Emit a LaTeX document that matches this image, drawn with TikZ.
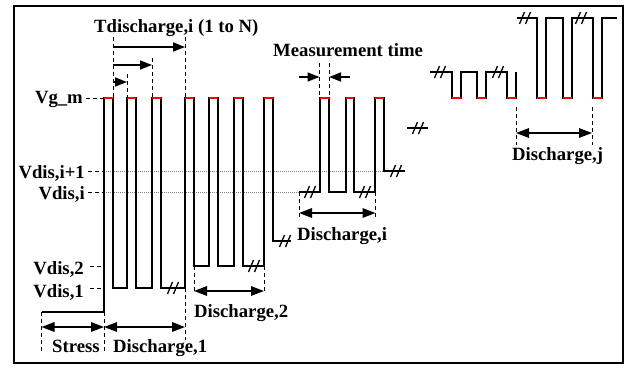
\documentclass[tikz,border=0pt]{standalone}
\usepackage{fontspec}
\setmainfont{Liberation Serif}
\usetikzlibrary{arrows.meta}
\begin{document}
\begin{tikzpicture}[x=1pt,y=-1pt,
  wave/.style={line width=1.6pt},
  hot/.style={red, line width=2pt},
  ext/.style={line width=0.9pt, dash pattern=on 4pt off 3pt},
  lvl/.style={gray, line width=0.9pt, dash pattern=on 1pt off 1pt},
  dimarrow/.style={line width=1.5pt, {Triangle[length=13pt,width=9.5pt]}-{Triangle[length=13pt,width=9.5pt]}},
  onearrow/.style={line width=1.5pt, -{Triangle[length=12pt,width=9pt]}},
  lbl/.style={font=\fontsize{18.7}{20}\selectfont\bfseries, inner sep=0pt},
  brk/.pic={\draw[line width=1.3pt] (-5.5,6) -- (-0.5,-6) (0.5,6) -- (5.5,-6);}
]
\useasboundingbox (0,0) rectangle (632,367);
\draw[line width=2pt] (13.5,5.5) rectangle (623,362.5);

% level markers
\draw[lvl] (104,171) -- (392,171);
\draw[lvl] (104,192) -- (300,192);
\draw[ext] (86,98) -- (104,98);
\draw[ext] (88,171) -- (104,171);
\draw[ext] (88,192) -- (104,192);
\draw[ext] (90,266) -- (104,266);
\draw[ext] (90,288) -- (104,288);

% waveform: stress, discharge 1 and 2
\draw[wave] (41.5,312) -- (104,312) -- (104,98) -- (113,98) -- (113,288) -- (127,288) -- (127,98) -- (136,98) -- (136,288) -- (152,288) -- (152,98) -- (161,98) -- (161,288) -- (185,288) -- (185,98) -- (194,98) -- (194,266) -- (209,266) -- (209,98) -- (218,98) -- (218,266) -- (234,266) -- (234,98) -- (243,98) -- (243,266) -- (264,266) -- (264,98) -- (273,98) -- (273,241) -- (291,241);
\pic at (173,288) {brk};
\pic at (254,266) {brk};
\pic at (285,241) {brk};
\foreach \a/\b in {104/113,127/136,152/161,185/194,209/218,234/243,264/273}
  \draw[hot] (\a,98) -- (\b,98);

% waveform: discharge i
\draw[wave] (299,192) -- (320,192) -- (320,98) -- (329,98) -- (329,192) -- (346,192) -- (346,98) -- (354,98) -- (354,192) -- (375,192) -- (375,98) -- (384,98) -- (384,171) -- (405,171);
\pic at (310,192) {brk};
\pic at (365,192) {brk};
\pic at (396,171) {brk};
\foreach \a/\b in {320/329,346/354,375/384}
  \draw[hot] (\a,98) -- (\b,98);

% standalone break
\draw[wave] (407,128) -- (428,128);
\pic at (418,128) {brk};

% right groups
\draw[wave] (430,72) -- (452,72) -- (452,98) -- (461,98) -- (461,72) -- (477,72) -- (477,98) -- (486,98) -- (486,72) -- (507,72) -- (507,98) -- (516,98) -- (516,72);
\pic at (440,72) {brk};
\pic at (498,72) {brk};
\draw[wave] (517,18) -- (537,18) -- (537,98) -- (546,98) -- (546,18) -- (563,18) -- (563,98) -- (572,98) -- (572,18) -- (593,18) -- (593,98) -- (602,98) -- (602,18) -- (617,18);
\pic at (525,18) {brk};
\pic at (581,18) {brk};
\foreach \a/\b in {452/461,477/486,507/516,537/546,563/572,593/602}
  \draw[hot] (\a,98) -- (\b,98);

% Tdischarge
\draw[ext] (113,37) -- (113,98);
\draw[ext] (127,74) -- (127,98);
\draw[ext] (152,58) -- (152,98);
\draw[ext] (185,37) -- (185,98);
\draw[onearrow] (113,82) -- (127,82);
\draw[onearrow] (113,65) -- (152,65);
\draw[onearrow] (113,47) -- (185,47);

% measurement time
\draw[ext] (319.5,63) -- (319.5,98);
\draw[ext] (329,63) -- (329,98);
\draw[onearrow] (299,77) -- (319.5,77);
\draw[onearrow] (350,77) -- (329,77);

% discharge i
\draw[ext] (299,192) -- (299,217);
\draw[ext] (375.5,192) -- (375.5,217);
\draw[dimarrow] (299,213) -- (375.5,213);

% discharge j
\draw[ext] (516,107) -- (516,145);
\draw[ext] (592,107) -- (592,145);
\draw[dimarrow] (516,133) -- (592,133);

% discharge 2
\draw[ext] (194,266) -- (194,293);
\draw[ext] (264,266) -- (264,293);
\draw[dimarrow] (194,291) -- (264,291);

% stress, discharge 1
\draw[ext] (41.5,312) -- (41.5,353);
\draw[ext] (104,312) -- (104,353);
\draw[ext] (185,288) -- (185,340);
\draw[dimarrow] (41.5,327) -- (104,327);
\draw[dimarrow] (104,327) -- (185,327);

% labels
\node[lbl, anchor=base east] (vgm) at (83,103) {Vg\_m};
\node[lbl, anchor=base east] (vi1) at (85,178) {Vdis,i+1};
\node[lbl, anchor=base east] (vi) at (85,199) {Vdis,i};
\node[lbl, anchor=base east] (v2) at (84,274) {Vdis,2};
\node[lbl, anchor=base east] (v1) at (84,297) {Vdis,1};
\node[lbl, anchor=base west] (td) at (94,32.5) {Tdischarge,i (1 to N)};
\node[lbl, anchor=base west] (mt) at (273,56) {Measurement time};
\node[lbl, anchor=base west] (di) at (297,240) {Discharge,i};
\node[lbl, anchor=base west] (d2) at (194,317) {Discharge,2};
\node[lbl, anchor=base west] (st) at (52,352) {Stress};
\node[lbl, anchor=base west] (d1) at (113,352) {Discharge,1};
\node[lbl, anchor=base west] (dj) at (512,160) {Discharge,j};
\end{tikzpicture}
\end{document}
